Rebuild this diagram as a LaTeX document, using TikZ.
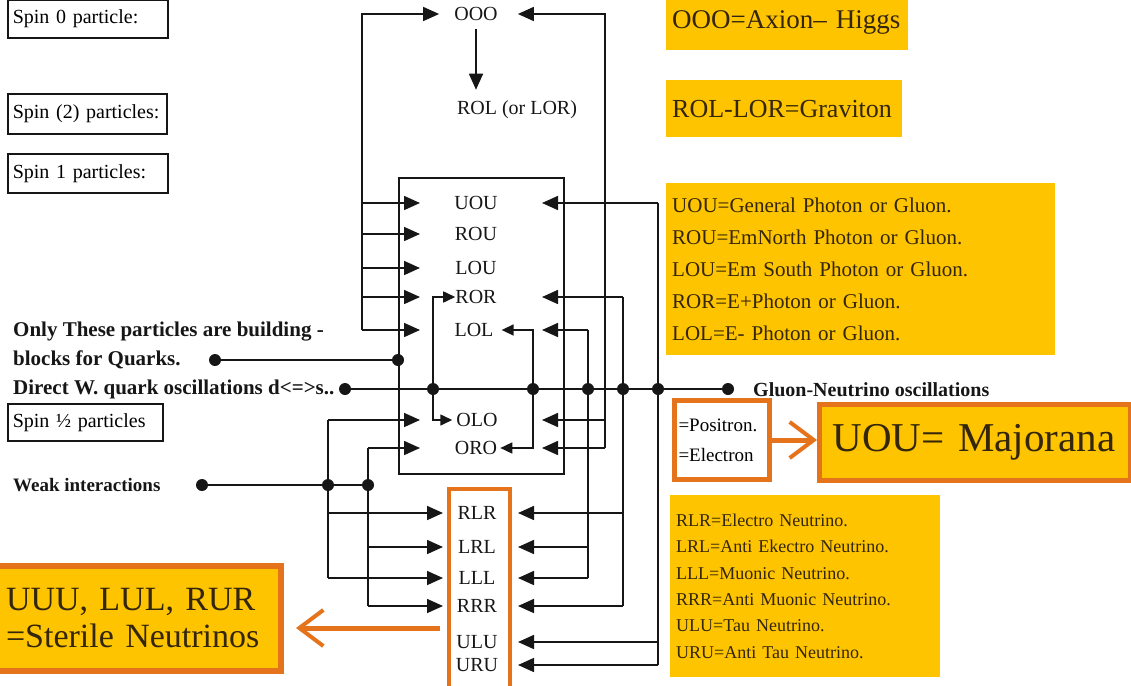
\documentclass[tikz,border=0pt]{standalone}
\usepackage{fontspec}
\setmainfont{Liberation Serif}
\usetikzlibrary{arrows.meta,positioning}
\definecolor{gold}{HTML}{FFC400}
\definecolor{orng}{HTML}{E5731C}
\definecolor{ink}{HTML}{161616}
\definecolor{notetext}{HTML}{33260A}

\begin{document}
\begin{tikzpicture}[
  x=1pt,y=-1pt,
  font=\fontsize{20}{22}\selectfont,
  lbl/.style={inner sep=0pt,text=ink},
  bl/.style={lbl,anchor=west,font=\fontsize{#1}{22}\selectfont\bfseries},
  spinbox/.style={draw=ink,line width=1.6pt,anchor=north west,minimum height=38pt,inner xsep=5pt,inner ysep=0pt,align=left,text width=#1},
  note/.style={fill=gold,anchor=north west,inner xsep=6pt,inner ysep=0pt,align=left,text=notetext},
  hot/.style={draw=orng,line width=5pt,anchor=north west,inner ysep=0pt,align=left},
  wire/.style={line width=1.6pt,draw=ink},
  arr/.style={wire,-{Triangle[length=16pt,width=14pt]}},
  arrs/.style={wire,-{Triangle[length=12pt,width=11pt]}},
  dot/.style={circle,fill=ink,inner sep=0pt,minimum size=12pt},
  fat/.style={draw=orng,line width=5pt,-{Straight Barb[length=24pt,width=36pt,line width=4pt]}}
]
\useasboundingbox (0,0) rectangle (1131,685);

% legend boxes on the left
\node[spinbox=150pt] (spin0) at (7,-1) {Spin 0 particle:};
\node[spinbox=149pt,minimum height=40pt] (spin2) at (7,93) {Spin (2) particles:};
\node[spinbox=150pt,minimum height=39pt] (spin1) at (7,153) {Spin 1 particles:};
\node[spinbox=145pt,minimum height=37pt] (spinh) at (7,403) {Spin ½ particles};

% yellow notes
\node[note,minimum width=242pt,minimum height=56pt,text width=230pt,font=\fontsize{27}{30}\selectfont] (axion) at (666,-6) {OOO=Axion– Higgs};
\node[note,minimum width=236pt,minimum height=57pt,text width=224pt,font=\fontsize{26}{30}\selectfont] (grav) at (666,80) {ROL-LOR=Graviton};
\node[note,minimum width=389pt,minimum height=172pt,text width=377pt,font=\fontsize{21}{32}\selectfont] (photon) at (666,183)
  {UOU=General Photon or Gluon.\\ROU=EmNorth Photon or Gluon.\\LOU=Em South Photon or Gluon.\\ROR=E+Photon or Gluon.\\LOL=E- Photon or Gluon.};
\node[note,minimum width=270pt,minimum height=182pt,text width=258pt,font=\fontsize{18}{26.4}\selectfont] (nunote) at (670,495)
  {RLR=Electro Neutrino.\\LRL=Anti Ekectro Neutrino.\\LLL=Muonic Neutrino.\\RRR=Anti Muonic Neutrino.\\ULU=Tau Neutrino.\\URU=Anti Tau Neutrino.};

% orange boxes
\node[hot,fill=white,minimum width=95pt,minimum height=79pt,inner xsep=4pt,text width=87pt,font=\fontsize{19}{30}\selectfont] (posi) at (672,398) {=Positron.\\=Electron};
\node[hot,fill=gold,minimum width=311pt,minimum height=76pt,inner xsep=13pt,text width=285pt,font=\fontsize{41}{44}\selectfont,text=notetext] (maj) at (817,402) {UOU= Majorana};
\node[hot,fill=gold,line width=6pt,minimum width=290pt,minimum height=105pt,inner xsep=14pt,text width=260pt,font=\fontsize{34}{37}\selectfont,text=notetext] (sterile) at (-12,563) {UUU, LUL, RUR\\=Sterile Neutrinos};
\node[hot,line width=4pt,minimum width=61pt,minimum height=215pt] (nubox) at (447,487) {};

% particle box
\node[draw=ink,line width=1.8pt,anchor=north west,minimum width=165pt,minimum height=296pt] (pbox) at (398,177) {};

% particle names
\node[lbl] (ooo) at (476,14) {OOO};
\node[lbl] (rol) at (517,110) {ROL (or LOR)};
\node[lbl] (uou) at (476,203) {UOU};
\node[lbl] (rou) at (476,234) {ROU};
\node[lbl] (lou) at (476,268) {LOU};
\node[lbl] (ror) at (476,297) {ROR};
\node[lbl] (lol) at (474,330) {LOL};
\node[lbl] (olo) at (477,420) {OLO};
\node[lbl] (oro) at (476,448) {ORO};
\node[lbl] (rlr) at (477,513) {RLR};
\node[lbl] (lrl) at (477,547) {LRL};
\node[lbl] (lll) at (477,578) {LLL};
\node[lbl] (rrr) at (477,606) {RRR};
\node[lbl] (ulu) at (477,642) {ULU};
\node[lbl] (uru) at (477,665) {URU};

% left texts
\node[bl=21] (build) at (13,332) {Only These particles are building -};
\node[bl=21] (quarks) at (13,360) {blocks for Quarks.};
\node[bl=21] (direct) at (13,389) {Direct W. quark oscillations d<=>s..};
\node[bl=19] (weak) at (13,485) {Weak interactions};
\node[bl=20] (glu) at (753,390) {Gluon-Neutrino oscillations};

% buses and arrow tips
\coordinate (busA) at (362,14);
\coordinate (busF) at (605,14);
\coordinate (busE) at (588,0);
\coordinate (busG) at (623,0);
\coordinate (busH) at (658,0);
\coordinate (busI) at (328,0);
\coordinate (busJ) at (368,0);
\coordinate (tipL) at (420,0);
\coordinate (tipR) at (542,0);
\coordinate (tipNL) at (443,0);
\coordinate (tipNR) at (518,0);
\coordinate (stY) at (0,628);

% dots
\node[dot] (dBlk) at (215,360) {};
\node[dot] (dBlkR) at (pbox.west |- dBlk) {};
\node[dot] (dDir) at (345,389) {};
\node[dot] (jC) at (433,389) {};
\node[dot] (jD) at (533,389) {};
\node[dot] (jE) at (busE |- dDir) {};
\node[dot] (jG) at (busG |- dDir) {};
\node[dot] (jH) at (busH |- dDir) {};
\node[dot] (dGlu) at (728,389) {};
\node[dot] (dWeak) at (202,485) {};
\node[dot] (jI) at (busI |- dWeak) {};
\node[dot] (jJ) at (busJ |- dWeak) {};

\draw[wire] (dBlk.center) -- (dBlkR.center);
\draw[wire] (dDir.center) -- (dGlu.center);
\draw[wire] (dWeak.center) -- (jJ.center);

% spin 0 and spin 2
\draw[arr] (ooo.south) ++(0,8) -- ([yshift=11pt]rol.north -| ooo.south);
\draw[arr] (busA |- lol) -- (busA) -- ([xshift=-15pt]ooo.west);
\draw[arr] (busF |- oro) -- (busF) -- ([xshift=20pt]ooo.east);

% left feeds
\foreach \p in {uou,rou,lou,ror,lol}
  \draw[arr] (busA |- \p) -- (tipL |- \p);
\draw[wire] (busI |- olo) -- (busI |- lll);
\draw[wire] (busJ |- oro) -- (busJ |- rrr);
\draw[arr] (busI |- olo) -- (tipL |- olo);
\draw[arr] (busJ |- oro) -- (tipL |- oro);
\foreach \p in {rlr,lll}
  \draw[arr] (busI |- \p) -- (tipNL |- \p);
\foreach \p in {lrl,rrr}
  \draw[arr] (busJ |- \p) -- (tipNL |- \p);

% inner feeds
\draw[arrs] (jC.center) |- (ror.west);
\draw[arrs] (jC.center) |- ([xshift=-4pt]olo.west);
\draw[arrs] (jD.center) |- ([xshift=8pt]lol.east);
\draw[arrs] (jD.center) |- ([xshift=3pt]oro.east);

% right feeds
\foreach \p in {olo,oro}
  \draw[arr] (busF |- \p) -- (tipR |- \p);
\draw[wire] (busE |- lol) -- (busE |- lll);
\draw[arr] (busE |- lol) -- (tipR |- lol);
\foreach \p in {lrl,lll}
  \draw[arr] (busE |- \p) -- (tipNR |- \p);
\draw[wire] (busG |- ror) -- (busG |- rrr);
\draw[arr] (busG |- ror) -- (tipR |- ror);
\foreach \p in {rlr,rrr}
  \draw[arr] (busG |- \p) -- (tipNR |- \p);
\draw[wire] (busH |- uou) -- (busH |- uru);
\draw[arr] (busH |- uou) -- (tipR |- uou);
\foreach \p in {ulu,uru}
  \draw[arr] (busH |- \p) -- (tipNR |- \p);

% orange arrows
\draw[fat] (posi.east) -- (maj.west |- posi.east);
\draw[fat] ([xshift=-7pt]nubox.west |- stY) -- ([xshift=12pt]sterile.east |- stY);
\end{tikzpicture}
\end{document}
